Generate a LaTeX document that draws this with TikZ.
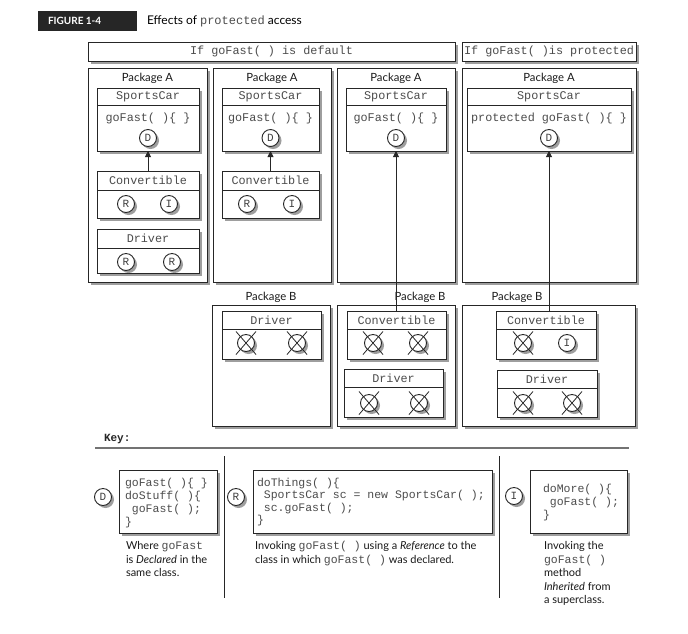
\documentclass[tikz,border=0pt]{standalone}
\usepackage{fontspec}
\setmainfont{Lato}
\setmonofont{Liberation Mono}
\usetikzlibrary{shadows,arrows.meta,calc}

% inline code inside running text
\newcommand\cd[1]{{\ttfamily\fontsize{11.5}{13.5}\selectfont\color{black!70}#1}}

% framed box given by its corners: [options]{name}{x1}{y1}{x2}{y2}
\newcommand\frm[6][]{%
  \node[frame,#1,minimum width={(#5-#3)*1pt},minimum height={(#6-#4)*1pt}] (#2) at (#3,#4) {};}

% class box with a title band: {name}{x1}{y1}{x2}{y2}{y of band rule}{title}
\newcommand\clsbox[7]{%
  \frm{#1}{#2}{#3}{#4}{#5}
  \path (#1.north west) ++(0,{#6-#3}) coordinate (#1-hl);
  \draw[frameline] (#1-hl) -- (#1-hl -| #1.east);
  \node[mono] (#1-t) at ($(#1.north west)!0.5!(#1-hl -| #1.east)$) {#7};}

% access mark: {name}{x}{y}{letter}
\newcommand\amark[4]{\node[markc] (#1) at (#2,#3) {#4};}
% crossed-out access mark: {name}{x}{y}
\newcommand\xmark[3]{%
  \node[markc] (#1) at (#2,#3) {};
  \draw[xline] ($(#1)+(-10,-11.5)$) -- ($(#1)+(10,11.5)$);
  \draw[xline] ($(#1)+(-10,11.5)$) -- ($(#1)+(10,-11.5)$);}

\begin{document}
\begin{tikzpicture}[x=1pt,y=-1pt,
  every node/.style={inner sep=0pt,outer sep=0pt},
  shadowed/.style={drop shadow={shadow xshift=2.5pt,shadow yshift=-2.5pt,fill=black!38,opacity=1}},
  frameline/.style={draw=black!85,line width=0.9pt},
  frame/.style={frameline,fill=white,shadowed,anchor=north west},
  mono/.style={font=\ttfamily\fontsize{11.8}{13}\selectfont,text=black!70},
  sans/.style={font=\fontsize{11.3}{13.5}\selectfont,text=black!90},
  markc/.style={circle,frameline,fill=white,shadowed,minimum size=17pt,
    font=\ttfamily\fontsize{11}{12}\selectfont,text=black!75},
  xline/.style={draw=black!85,line width=0.8pt},
  arr/.style={draw=black!85,line width=0.9pt,-{Triangle[length=6pt,width=6pt]}},
  code/.style={font=\ttfamily\fontsize{11.5}{13}\selectfont,text=black!70,align=left,anchor=north west},
  caption/.style={font=\fontsize{11}{13.5}\selectfont,text=black!90,align=left,anchor=north west},
]
\useasboundingbox (0,0) rectangle (688,633);
\fill[white] (0,0) rectangle (688,633);

% title band
\node[fill=black!85,minimum width=99pt,minimum height=20pt,anchor=north west] (figbox) at (38,11) {};
\node[anchor=west,text=white,font=\bfseries\fontsize{10}{12}\selectfont] (figlbl) at (48,21) {FIGURE 1-4};
\node[anchor=west,font=\fontsize{12}{14}\selectfont] (title) at (147,21)
  {Effects of {\ttfamily\fontsize{12}{14}\selectfont\color{black!70}protected} access};

% column headers
\frm{hdef}{88}{42}{455}{61}
\node[mono] at (hdef) {If goFast( ) is default};
\frm{hprot}{462}{42}{636}{61}
\node[mono] at (hprot) {If goFast( )is protected};

% ---------- package A boxes ----------
\frm{pa1}{88}{68}{207}{282}
\frm{pa2}{213}{68}{331}{282}
\frm{pa3}{337}{68}{455}{282}
\frm{pa4}{462}{68}{636}{282}
\foreach \p in {pa1,pa2,pa3,pa4}
  \node[sans] at ($(\p.north)+(0,10)$) {Package A};

% column 1
\clsbox{sc1}{97}{88}{199}{151}{105}{SportsCar}
\node[mono] at (148,118) {goFast( )\{ \}};
\amark{d1}{148}{138}{D}
\clsbox{cv1}{97}{171}{199}{218}{190}{Convertible}
\amark{r1}{126}{204}{R}
\amark{i1}{169}{204}{I}
\clsbox{dr1}{97}{229}{199}{273}{248}{Driver}
\amark{r1a}{126}{262}{R}
\amark{r1b}{172}{262}{R}
\draw[arr] (cv1.north) -- (sc1.south);

% column 2
\clsbox{sc2}{222}{88}{319}{151}{105}{SportsCar}
\node[mono] at (270.5,118) {goFast( )\{ \}};
\amark{d2}{270.5}{138}{D}
\clsbox{cv2}{222}{171}{319}{218}{190}{Convertible}
\amark{r2}{247}{204}{R}
\amark{i2}{292}{204}{I}
\draw[arr] (cv2.north) -- (sc2.south);

% column 3
\clsbox{sc3}{346}{88}{446}{151}{105}{SportsCar}
\node[mono] at (396,118) {goFast( )\{ \}};
\amark{d3}{396}{138}{D}

% column 4
\clsbox{sc4}{467}{88}{631}{151}{105}{SportsCar}
\node[mono] at (549,118) {protected goFast( )\{ \}};
\amark{d4}{549}{138}{D}

% ---------- package B boxes ----------
\frm{pb1}{212}{305}{330}{426}
\frm{pb2}{337}{305}{455}{426}
\frm{pb3}{462}{305}{635}{426}
\node[sans] at (271,297) {Package B};
\node[sans] at (420,297) {Package B};
\node[sans] at (517,297) {Package B};

\clsbox{drb1}{222}{311}{321}{359}{329}{Driver}
\xmark{xb1a}{246}{343}
\xmark{xb1b}{297}{343}

\clsbox{cvb2}{347}{311}{446}{359}{329}{Convertible}
\xmark{xb2a}{373}{343}
\xmark{xb2b}{418}{343}
\clsbox{drb2}{344}{369}{443}{417}{387}{Driver}
\xmark{xb2c}{369}{403}
\xmark{xb2d}{419}{403}

\clsbox{cvb3}{496}{311}{596}{359}{329}{Convertible}
\xmark{xb3a}{523}{343}
\amark{ib3}{567}{343}{I}
\clsbox{drb3}{497}{370}{597}{417}{388}{Driver}
\xmark{xb3c}{523}{403}
\xmark{xb3d}{572}{403}

\draw[arr] (sc3.south |- cvb2.north) -- (sc3.south);
\draw[arr] (sc4.south |- cvb3.north) -- (sc4.south);

% ---------- key ----------
\node[anchor=west,font=\ttfamily\bfseries\fontsize{11}{13}\selectfont,text=black!85] (key) at (104,439) {Key:};
\coordinate (kl) at (95,448);
\coordinate (kr) at (629,448);
\draw[draw=black!55,line width=1.3pt] (kl) -- (kr);
\coordinate (s1t) at (224,456); \coordinate (s1b) at (224,598);
\coordinate (s2t) at (499,456); \coordinate (s2b) at (499,598);
\draw[draw=black!85,line width=0.8pt] (s1t) -- (s1b);
\draw[draw=black!85,line width=0.8pt] (s2t) -- (s2b);

% declared
\amark{kd}{103}{497}{D}
\frm{kdbox}{119}{470}{217}{533}
\node[code] (kdcode) at (125,477.5)
  {\strut goFast( )\{ \}\\doStuff( )\{\\\ goFast( );\\\}};
\node[caption] (kdcap) at (126,540.5)
  {\strut Where \cd{goFast}\\is \textit{Declared} in the\\same class.};

% reference
\amark{kr}{236}{497}{R}
\frm{krbox}{253}{470}{492}{533}
\node[code,font=\ttfamily\fontsize{11.5}{12.5}\selectfont] (krcode) at (257,477.5)
  {\strut doThings( )\{\\\ SportsCar sc = new SportsCar( );\\\ sc.goFast( );\\\}};
\node[caption] (krcap) at (255,540.5)
  {\strut Invoking \cd{goFast(~)} using a \textit{Reference} to the\\class in which \cd{goFast(~)} was declared.};

% inherited
\amark{ki}{514}{496}{I}
\frm{kibox}{530}{470}{627}{533}
\node[code] (kicode) at (543,483.5)
  {\strut doMore( )\{\\\ goFast( );\\\}};
\node[caption] (kicap) at (544,540.5)
  {\strut Invoking the\\\cd{goFast(~)}\\method\\\textit{Inherited} from\\a superclass.};
\end{tikzpicture}
\end{document}
